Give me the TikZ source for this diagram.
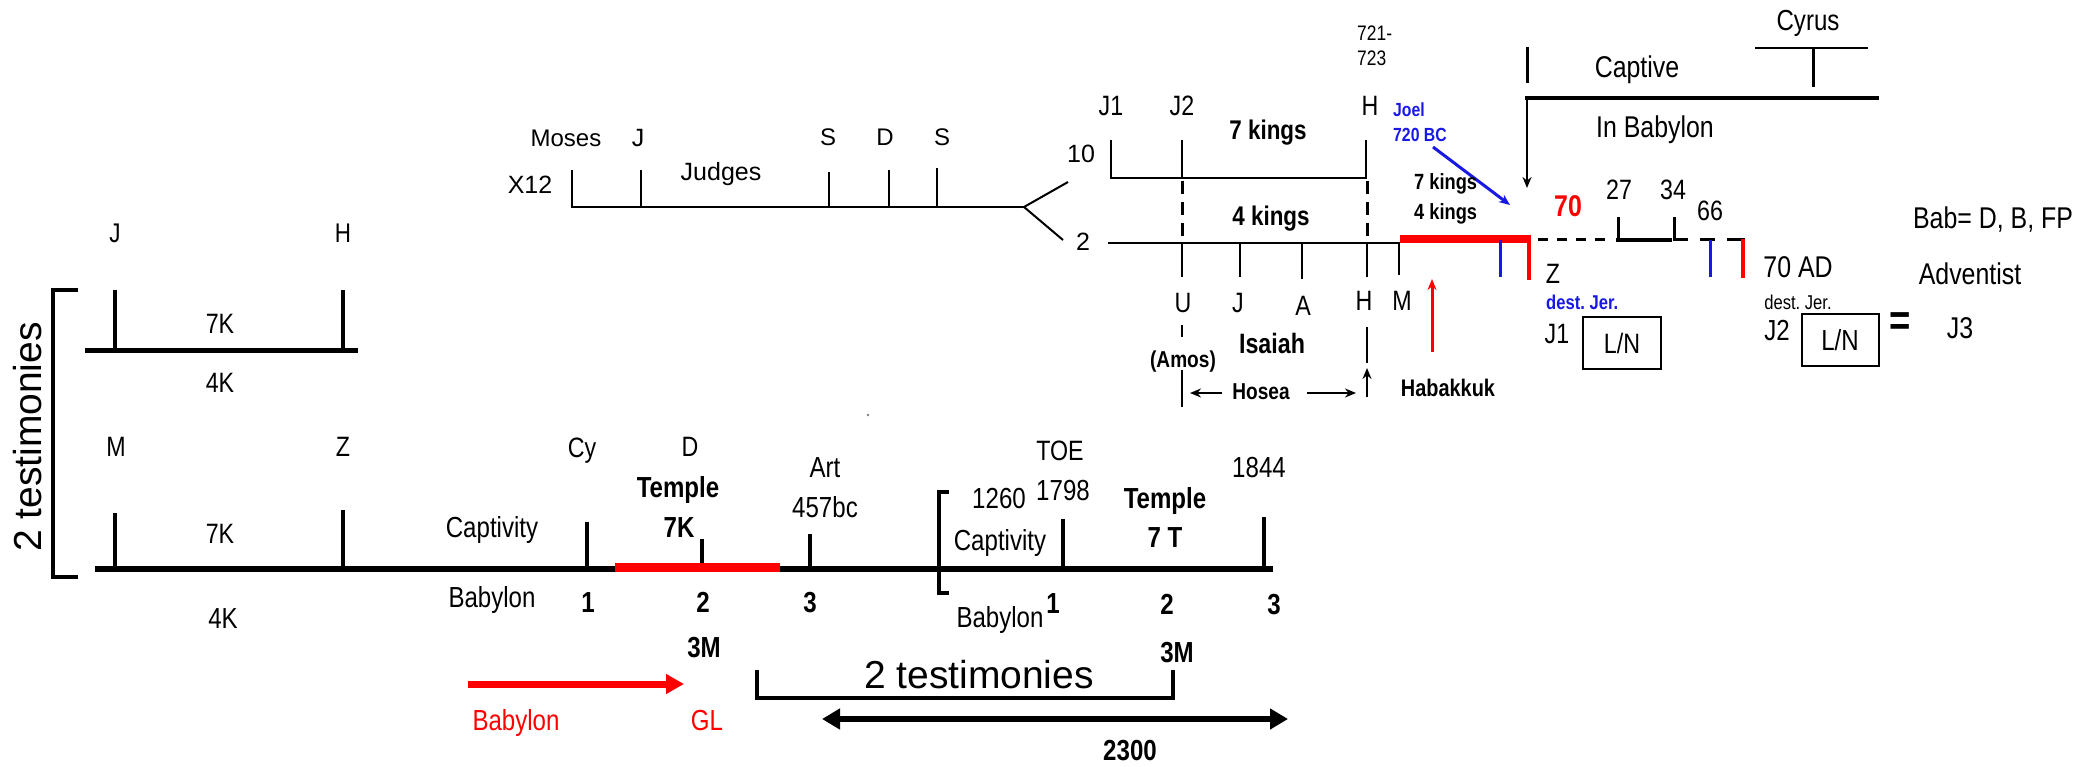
\documentclass[tikz,border=0pt]{standalone}
\usepackage{fontspec}
\setmainfont[FakeStretch=0.83]{Liberation Sans}
\newfontfamily\widefont{Liberation Sans}
\usetikzlibrary{arrows.meta}
\newcommand\tsz[1]{\fontsize{#1pt}{#1pt}\selectfont}
\definecolor{myred}{RGB}{255,0,0}
\definecolor{myblue}{RGB}{25,25,230}
\frenchspacing
\tikzset{
  T/.style={font=\tsz{#1}, anchor=base, yshift={-0.36*#1pt}, inner sep=0pt},
  TB/.style={font=\tsz{#1}\bfseries, anchor=base, yshift={-0.36*#1pt}, inner sep=0pt},
  TW/.style={font=\widefont\tsz{#1}, anchor=base, yshift={-0.36*#1pt}, inner sep=0pt},
  tl/.style={line width=2pt, draw=black},
  dl/.style={line width=3pt, draw=black, dash pattern=on 13pt off 8pt},
  sarrow/.style={-{Stealth[length=11pt,width=9pt]}},
}
\begin{document}
\begin{tikzpicture}[x=1pt,y=-1pt]
\useasboundingbox (0,0) rectangle (2080,767);
\fill[white] (0,0) rectangle (2080,767);

% ---------------- top timeline ----------------
\draw[tl] (572,170) -- (572,207) -- (1024,207);
\draw[tl] (641,170) -- (641,207);
\draw[tl] (829,172) -- (829,207);
\draw[tl] (889,170) -- (889,207);
\draw[tl] (937,168) -- (937,207);
\draw[tl] (1068,182) -- (1024,207) -- (1063,240);
\draw[tl] (1111,140) -- (1111,178) -- (1367,178);
\draw[tl] (1182,140) -- (1182,178);
\draw[tl] (1366,140) -- (1366,178);
\draw[tl] (1108,243) -- (1400,243);
\draw[tl] (1182,243) -- (1182,277);
\draw[tl] (1240,243) -- (1240,277);
\draw[tl] (1302,243) -- (1302,279);
\draw[tl] (1367,243) -- (1367,277);
\draw[tl] (1399,243) -- (1399,275);
\draw[dl] (1182,181) -- (1182,243);
\draw[dl] (1367,181) -- (1367,243);
\draw[tl] (1182,325) -- (1182,337);
\draw[tl] (1182,370) -- (1182,407);
\draw[tl] (1367,327) -- (1367,363);
\draw[line width=2.5pt, sarrow] (1367,397) -- (1367,368);
\draw[line width=2.5pt, sarrow] (1222,393) -- (1190,393);
\draw[line width=2.5pt, sarrow] (1307,393) -- (1356,393);
\draw[myred, line width=8pt] (1400,239) -- (1531,239);
\draw[myred, line width=4pt] (1529,237) -- (1529,280);
\draw[myblue, line width=3pt] (1500,240) -- (1500,277);
\draw[myred, line width=3pt, sarrow] (1432,352) -- (1432,279);
\draw[myblue, line width=3pt, sarrow] (1433,147) -- (1510,205);
\draw[line width=3pt] (1527,47) -- (1527,83);
\draw[line width=4.5pt] (1525,98) -- (1879,98);
\draw[line width=2.5pt, sarrow] (1527,98) -- (1527,188);
\draw[line width=2pt] (1755,48) -- (1868,48);
\draw[line width=3pt] (1813,48) -- (1813,87);
\draw[line width=3pt, dash pattern=on 10pt off 9pt] (1538,240) -- (1612,240);
\draw[line width=3pt] (1618,217) -- (1618,240);
\draw[line width=4.5pt] (1616,240) -- (1672,240);
\draw[line width=3pt] (1674,217) -- (1674,240) -- (1688,240);
\draw[line width=3pt] (1700,240) -- (1715,240);
\draw[line width=3pt] (1727,240) -- (1745,240);
\draw[myblue, line width=3pt] (1710,240) -- (1710,277);
\draw[myred, line width=4.5pt] (1743,239) -- (1743,278);
\draw[line width=2pt] (1583,317) rectangle (1661,369);
\draw[line width=2pt] (1802,314) rectangle (1879,366);

\node[TW=24] (moses) at (566,138) {Moses};
\node[TW=25] (tj) at (638,138) {J};
\node[TW=24] (ts1) at (828,137) {S};
\node[TW=24] (td) at (885,137) {D};
\node[TW=24] (ts2) at (942,137) {S};
\node[TW=25] (judges) at (721,172) {Judges};
\node[TW=25] (x12) at (530,185) {X12};
\node[TW=25] (ten) at (1081,154) {10};
\node[TW=25] (two) at (1083,242) {2};
\node[T=28] (j1t) at (1111,105) {J1};
\node[T=28] (j2t) at (1182,105) {J2};
\node[T=28] (ht) at (1370,105) {H};
\node[T=21, anchor=base west] (y721) at (1357,33) {721-};
\node[T=21, anchor=base west] (y723) at (1357,58) {723};
\node[TB=27] (sevk) at (1268,130) {7 kings};
\node[TB=27] (fourk) at (1271,216) {4 kings};
\node[TB=19, anchor=base west, text=myblue] (joel) at (1393,110) {Joel};
\node[TB=19, anchor=base west, text=myblue] (bc720) at (1393,135) {720 BC};
\node[TB=22, anchor=base west] (sevks) at (1414,182) {7 kings};
\node[TB=22, anchor=base west] (fourks) at (1414,212) {4 kings};
\node[TB=30, text=myred] (seventy) at (1568,206) {70};
\node[T=28] (n27) at (1619,189) {27};
\node[T=28] (n34) at (1673,189) {34};
\node[T=28] (n66) at (1710,210) {66};
\node[T=28] (zt) at (1553,273) {Z};
\node[TB=20, anchor=base west, text=myblue] (dj1) at (1546,302) {dest. Jer.};
\node[T=28] (j1b) at (1557,333) {J1};
\node[T=28] (ln1) at (1622,343) {L/N};
\node[T=28] (u) at (1183,302) {U};
\node[T=28] (jb) at (1238,302) {J};
\node[T=28] (ab) at (1303,305) {A};
\node[T=28] (hb) at (1364,300) {H};
\node[T=28] (mb) at (1402,300) {M};
\node[TB=28] (isaiah) at (1272,343) {Isaiah};
\node[TB=23] (amos) at (1183,359) {(Amos)};
\node[TB=23] (hosea) at (1261,391) {Hosea};
\node[TB=24] (habakkuk) at (1448,388) {Habakkuk};
\node[T=30] (captive) at (1637,67) {Captive};
\node[T=30] (inbab) at (1655,127) {In Babylon};
\node[T=29] (cyrus) at (1808,20) {Cyrus};
\node[T=30] (ad70) at (1798,267) {70 AD};
\node[T=20] (dj2) at (1798,302) {dest. Jer.};
\node[T=29] (j2b) at (1777,330) {J2};
\node[T=29] (ln2) at (1840,340) {L/N};
\node[TB=44] (eq) at (1900,320) {=};
\node[T=30] (j3) at (1960,328) {J3};
\node[T=30] (bab) at (1993,218) {Bab= D, B, FP};
\node[T=30] (adv) at (1970,274) {Adventist};

% ---------------- bottom timelines ----------------
\draw[line width=5pt] (85,350) -- (358,350);
\draw[line width=4pt] (115,290) -- (115,350);
\draw[line width=4pt] (343,290) -- (343,350);
\draw[line width=4pt] (78,290) -- (53,290) -- (53,577) -- (78,577);
\draw[line width=6pt] (95,569) -- (1273,569);
\draw[line width=4pt] (115,513) -- (115,569);
\draw[line width=4pt] (343,510) -- (343,569);
\draw[line width=4pt] (587,522) -- (587,569);
\draw[line width=4pt] (702,539) -- (702,566);
\draw[line width=4pt] (810,534) -- (810,569);
\draw[line width=4pt] (1063,519) -- (1063,569);
\draw[line width=4pt] (1264,517) -- (1264,569);
\fill[myred] (615,563) rectangle (780,572);
\draw[line width=4pt] (949,492) -- (939,492) -- (939,593) -- (949,593);
\draw[line width=4.5pt] (757,670) -- (757,698) -- (1173,698) -- (1173,670);
\draw[myred, line width=7pt, -{Triangle[length=18pt,width=19pt]}] (468,684) -- (684,684);
\draw[line width=6.5pt, {Triangle[length=18pt,width=20pt]}-{Triangle[length=18pt,width=20pt]}] (822,719) -- (1288,719);
\fill[gray] (868,415) circle (1.3);

\node[T=27] (lj) at (115,233) {J};
\node[T=27] (lh) at (343,233) {H};
\node[T=28] (l7k) at (220,323) {7K};
\node[T=28] (l4k) at (220,382) {4K};
\node[font=\widefont\tsz{39}, rotate=90, inner sep=0pt, text depth=0pt] (test1) at (27,437) {2 testimonies};
\node[T=28] (lm) at (116,446) {M};
\node[T=28] (lz) at (343,446) {Z};
\node[T=28] (lcy) at (582,447) {Cy};
\node[T=28] (ld) at (690,446) {D};
\node[TB=29] (temple1) at (678,487) {Temple};
\node[TB=29] (t7k) at (679,527) {7K};
\node[T=28] (m7k) at (220,533) {7K};
\node[T=29] (capt1) at (492,527) {Captivity};
\node[T=29] (art) at (825,467) {Art};
\node[T=29] (y457) at (825,507) {457bc};
\node[T=29] (y1260) at (999,498) {1260};
\node[T=28] (toe) at (1060,450) {TOE};
\node[T=29] (y1798) at (1063,490) {1798};
\node[T=29] (capt2) at (1000,540) {Captivity};
\node[TB=29] (temple2) at (1165,498) {Temple};
\node[TB=29] (t7t) at (1165,537) {7 T};
\node[T=29] (y1844) at (1259,467) {1844};
\node[T=29] (bab1) at (492,597) {Babylon};
\node[TB=29] (one1) at (588,602) {1};
\node[TB=29] (two1) at (703,602) {2};
\node[TB=29] (three1) at (810,602) {3};
\node[T=29] (bab2) at (1000,617) {Babylon};
\node[TB=29] (one2) at (1053,603) {1};
\node[TB=29] (two2) at (1167,604) {2};
\node[TB=29] (three2) at (1274,604) {3};
\node[T=29] (m4k) at (223,618) {4K};
\node[TB=29] (m3a) at (704,647) {3M};
\node[TB=29] (m3b) at (1177,652) {3M};
\node[TW=39] (test2) at (979,674) {2 testimonies};
\node[T=29, text=myred] (babred) at (516,720) {Babylon};
\node[T=29, text=myred] (gl) at (707,720) {GL};
\node[TB=29] (n2300) at (1130,750) {2300};
\end{tikzpicture}
\end{document}
